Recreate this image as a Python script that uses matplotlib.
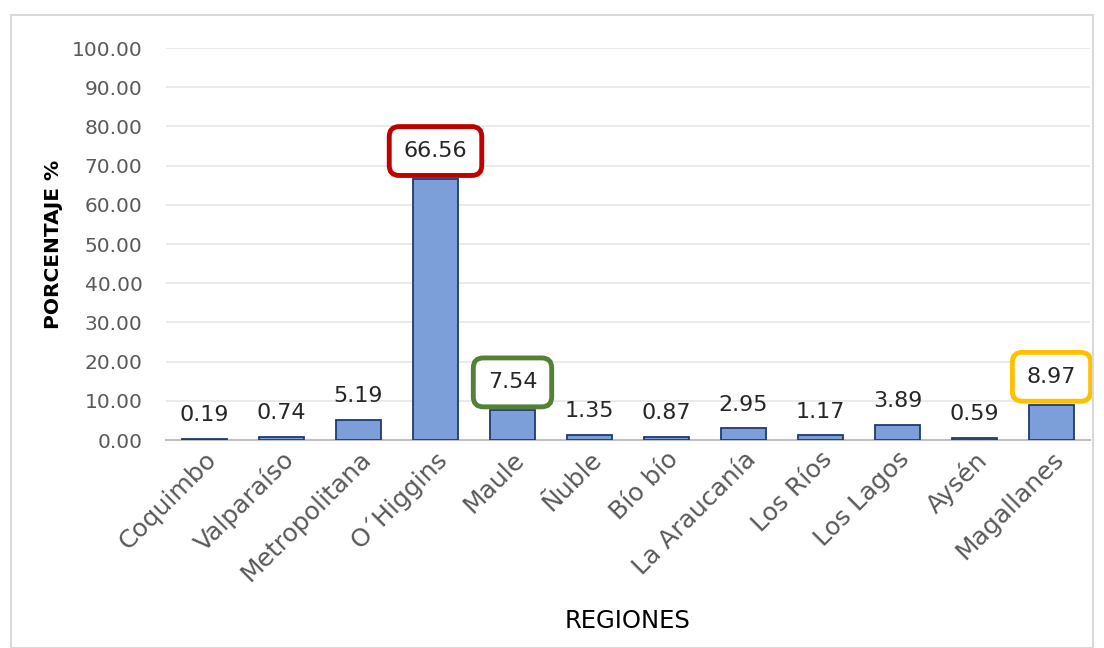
import matplotlib
matplotlib.use("Agg")
import matplotlib.pyplot as plt
from matplotlib.patches import Rectangle

regions = ["Coquimbo", "Valparaíso", "Metropolitana", "O\u00b4Higgins", "Maule", "Ñuble",
           "Bío bío", "La Araucanía", "Los Ríos", "Los Lagos", "Aysén", "Magallanes"]
values = [0.19, 0.74, 5.19, 66.56, 7.54, 1.35, 0.87, 2.95, 1.17, 3.89, 0.59, 8.97]
highlight = {3: "#C00000", 4: "#548235", 11: "#FFC000"}

plt.rcParams['font.family'] = ['DejaVu Sans']
fig = plt.figure(figsize=(11.04, 6.48), dpi=100)
fig.patches.append(Rectangle((11/1104, 0), 1 - 22/1104, 1 - 15/648, transform=fig.transFigure,
                             fill=False, edgecolor="#D9D9D9", linewidth=1.5))
ax = fig.add_axes([166/1104, 1 - 440/648, (1090 - 166)/1104, (440 - 48)/648])

x = range(len(regions))
ax.bar(x, values, width=0.58, color="#7C9FD9", edgecolor="#1F3A73", linewidth=1.3, zorder=3)
ax.set_ylim(0, 100)
ax.set_xlim(-0.5, len(regions) - 0.5)
ax.set_yticks(range(0, 101, 10))
ax.set_yticklabels([f"{v:.2f}" for v in range(0, 101, 10)], fontsize=14.5, color="#595959")
ax.yaxis.grid(True, color="#E6E6E6", linewidth=1.2, zorder=0)
ax.tick_params(axis="y", length=0, pad=17)
ax.tick_params(axis="x", length=0, pad=5)
ax.set_xticks(list(x))
ax.set_xticklabels(regions, rotation=45, ha="right", rotation_mode="anchor",
                   fontsize=18, color="#595959")
for s in ["top", "right", "left"]:
    ax.spines[s].set_visible(False)
ax.spines["bottom"].set_color("#BFBFBF")
ax.spines["bottom"].set_linewidth(1.5)

for i, v in enumerate(values):
    if i in highlight:
        ax.annotate(f"{v:.2f}", (i, v), xytext=(0, 13), textcoords="offset points",
                    ha="center", va="bottom", fontsize=16, color="#262626",
                    bbox=dict(boxstyle="round,pad=0.65,rounding_size=0.45", fc="white",
                              ec=highlight[i], lw=3.5), zorder=5)
    else:
        ax.annotate(f"{v:.2f}", (i, v), xytext=(0, 10), textcoords="offset points",
                    ha="center", va="bottom", fontsize=16, color="#262626", zorder=5)

ax.set_ylabel("PORCENTAJE %", fontsize=14.5, fontweight="semibold", color="black")
ax.yaxis.set_label_coords((63 - 166) / 924, 0.5)
ax.set_xlabel("REGIONES", fontsize=17.5, color="black")
ax.xaxis.set_label_coords(0.5, (440 - 609) / 392)

fig.savefig("out.png", dpi=100)
